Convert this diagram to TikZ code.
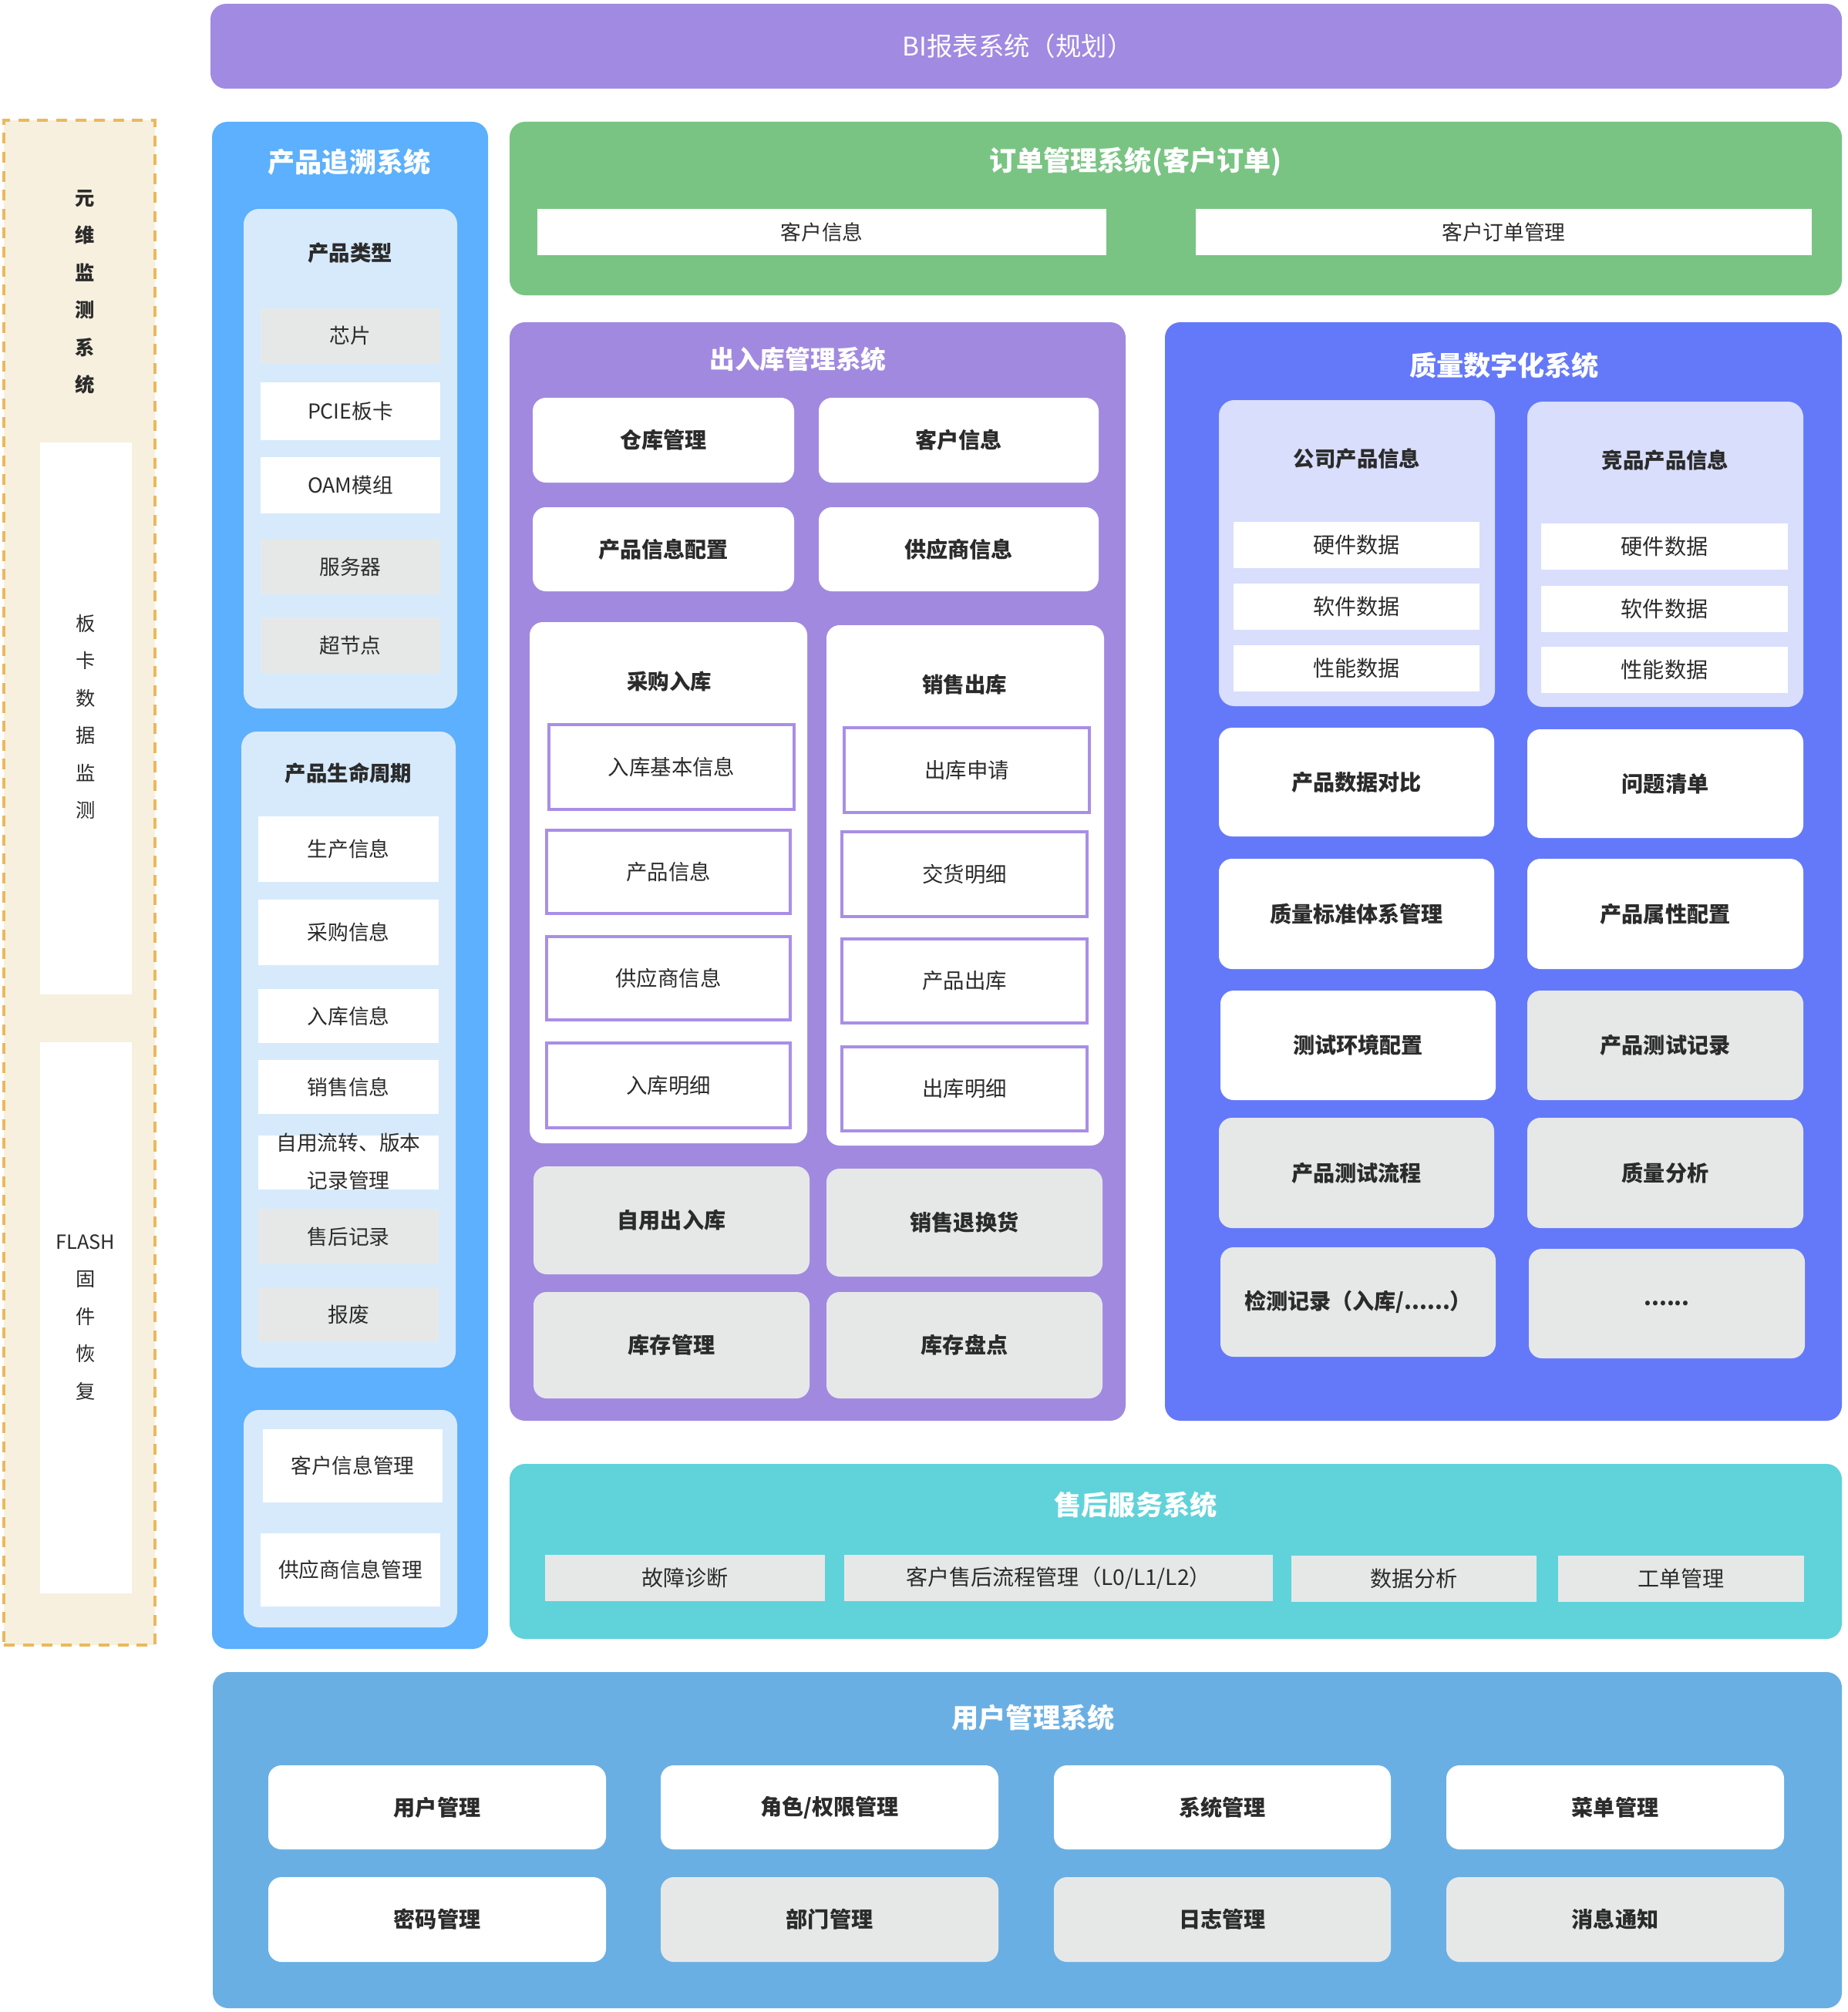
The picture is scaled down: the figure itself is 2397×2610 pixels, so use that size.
\documentclass[tikz,border=0pt]{standalone}
\usepackage{fontspec}
\setmainfont{Noto Sans CJK SC}
\definecolor{topbar}{HTML}{A18AE2}
\definecolor{cream}{HTML}{F7F0DF}
\definecolor{dashc}{HTML}{E9B95B}
\definecolor{trace}{HTML}{5CB0FD}
\definecolor{pale}{HTML}{D7EAFC}
\definecolor{grayi}{HTML}{E6E8E8}
\definecolor{ordg}{HTML}{79C483}
\definecolor{purp}{HTML}{A189E0}
\definecolor{pborder}{HTML}{A98EE6}
\definecolor{qual}{HTML}{6479F9}
\definecolor{lav}{HTML}{D8DEFC}
\definecolor{tealc}{HTML}{5FD3D9}
\definecolor{ublue}{HTML}{6AAFE3}
\definecolor{ink}{HTML}{2B2B2B}
% box from corner (x1,y1) to corner (x2,y2), in 0.1mm units
\newcommand\bx[7]{\node[#2,minimum width={(#5-#3)*0.1mm},minimum height={(#6-#4)*0.1mm}] (#1) at ({(#3+#5)/2},{(#4+#6)/2}) {#7};}
\newcommand\fsz[1]{\fontsize{#1}{#1}\selectfont}
\begin{document}
\begin{tikzpicture}[x=0.1mm,y=-0.1mm,
  every node/.style={inner sep=0pt,outer sep=0pt,text=ink},
  panel/.style={fill=#1,rounded corners=2mm},
  subpanel/.style={fill=#1,rounded corners=2mm},
  item/.style={fill=white,font=\fsz{7.6}},
  gitem/.style={fill=grayi,font=\fsz{7.6}},
  card/.style={fill=white,rounded corners=1.7mm,font=\fsz{8}\bfseries},
  gcard/.style={fill=grayi,rounded corners=1.7mm,font=\fsz{8}\bfseries},
  pitem/.style={fill=white,draw=pborder,line width=1.1pt,font=\fsz{7.8}},
  title/.style={text=white,font=\fsz{10}\bfseries},
  subtitle/.style={font=\fsz{7.8}\bfseries},
  vtext/.style={align=center,font=\fontsize{7.2}{13.8}\selectfont},
  dashbox/.style={fill=cream,draw=dashc,line width=1.3pt,dash pattern=on 4pt off 3pt}
]
\useasboundingbox (0,0) rectangle (2397,2610);
\fill[white] (0,0) rectangle (2397,2610);

% BI reporting bar
\bx{bi}{panel=topbar}{273}{5}{2389}{115}{}
\node[text=white,font=\fsz{9.5}] (bit) at (1320,60) {BI报表系统（规划）};

% monitoring column
\bx{mon}{dashbox}{5}{156}{201}{2134}{}
\node[vtext,font=\fontsize{7.2}{13.8}\selectfont\bfseries] (mont) at (110,379) {元\\维\\监\\测\\系\\统};
\bx{board}{fill=white}{52}{574}{171}{1290}{}
\node[vtext] (boardt) at (111,930) {板\\卡\\数\\据\\监\\测};
\bx{flash}{fill=white}{52}{1352}{171}{2067}{}
\node[vtext] (flasht) at (111,1709) {FLASH\\固\\件\\恢\\复};

% product traceability
\bx{trc}{panel=trace}{275}{158}{633}{2139}{}
\node[title] (trct) at (453,210) {产品追溯系统};
\bx{ptype}{subpanel=pale}{316}{271}{593}{919}{}
\node[subtitle] (ptypet) at (454,328) {产品类型};
\bx{pt1}{gitem}{338}{400}{571}{471}{芯片}
\bx{pt2}{item}{338}{496}{571}{571}{PCIE板卡}
\bx{pt3}{item}{338}{593}{571}{666}{OAM模组}
\bx{pt4}{gitem}{338}{699}{571}{771}{服务器}
\bx{pt5}{gitem}{338}{801}{571}{874}{超节点}
\bx{life}{subpanel=pale}{313}{949}{591}{1774}{}
\node[subtitle] (lifet) at (452,1003) {产品生命周期};
\bx{lc1}{item}{335}{1059}{569}{1144}{生产信息}
\bx{lc2}{item}{335}{1167}{569}{1252}{采购信息}
\bx{lc3}{item}{335}{1283}{569}{1353}{入库信息}
\bx{lc4}{item}{335}{1375}{569}{1445}{销售信息}
\bx{lc5}{item}{335}{1473}{569}{1543}{}
\node[align=center,font=\fontsize{7.6}{13.8}\selectfont] (lc5t) at (452,1507) {自用流转、版本\\记录管理};
\bx{lc6}{gitem}{335}{1568}{569}{1640}{售后记录}
\bx{lc7}{gitem}{335}{1670}{569}{1741}{报废}
\bx{info}{subpanel=pale}{316}{1829}{593}{2111}{}
\bx{inf1}{item}{341}{1854}{574}{1949}{客户信息管理}
\bx{inf2}{item}{338}{1989}{571}{2084}{供应商信息管理}

% order management
\bx{ord}{panel=ordg}{661}{158}{2389}{383}{}
\node[title] (ordt) at (1473,210) {订单管理系统(客户订单)};
\bx{ord1}{item}{697}{271}{1435}{331}{客户信息}
\bx{ord2}{item}{1551}{271}{2350}{331}{客户订单管理}

% warehouse management
\bx{wh}{panel=purp}{661}{418}{1460}{1843}{}
\node[title,font=\fsz{9.3}\bfseries] (wht) at (1035,466) {出入库管理系统};
\bx{wh1}{card}{691}{516}{1030}{626}{仓库管理}
\bx{wh2}{card}{1062}{516}{1425}{626}{客户信息}
\bx{wh3}{card}{691}{658}{1030}{767}{产品信息配置}
\bx{wh4}{card}{1062}{658}{1425}{767}{供应商信息}
\bx{buy}{fill=white,rounded corners=1.7mm}{687}{807}{1047}{1483}{}
\node[subtitle] (buyt) at (868,884) {采购入库};
\bx{buy1}{pitem}{712}{940}{1030}{1050}{入库基本信息}
\bx{buy2}{pitem}{709}{1077}{1025}{1185}{产品信息}
\bx{buy3}{pitem}{709}{1215}{1025}{1323}{供应商信息}
\bx{buy4}{pitem}{709}{1353}{1025}{1463}{入库明细}
\bx{sell}{fill=white,rounded corners=1.7mm}{1072}{811}{1432}{1486}{}
\node[subtitle] (sellt) at (1251,888) {销售出库};
\bx{sell1}{pitem}{1095}{944}{1413}{1054}{出库申请}
\bx{sell2}{pitem}{1092}{1079}{1410}{1189}{交货明细}
\bx{sell3}{pitem}{1092}{1218}{1410}{1327}{产品出库}
\bx{sell4}{pitem}{1092}{1358}{1410}{1467}{出库明细}
\bx{wh5}{gcard}{692}{1513}{1050}{1653}{自用出入库}
\bx{wh6}{gcard}{1072}{1516}{1430}{1656}{销售退换货}
\bx{wh7}{gcard}{692}{1676}{1050}{1814}{库存管理}
\bx{wh8}{gcard}{1072}{1676}{1430}{1814}{库存盘点}

% quality digitalisation
\bx{q}{panel=qual}{1511}{418}{2389}{1843}{}
\node[title] (qt) at (1951,474) {质量数字化系统};
\bx{qa}{subpanel=lav}{1581}{519}{1939}{916}{}
\node[subtitle] (qat) at (1760,595) {公司产品信息};
\bx{qa1}{item,font=\fsz{8}}{1600}{677}{1919}{737}{硬件数据}
\bx{qa2}{item,font=\fsz{8}}{1600}{757}{1919}{817}{软件数据}
\bx{qa3}{item,font=\fsz{8}}{1600}{837}{1919}{897}{性能数据}
\bx{qb}{subpanel=lav}{1981}{521}{2339}{917}{}
\node[subtitle] (qbt) at (2160,597) {竞品产品信息};
\bx{qb1}{item,font=\fsz{8}}{1999}{679}{2319}{739}{硬件数据}
\bx{qb2}{item,font=\fsz{8}}{1999}{760}{2319}{820}{软件数据}
\bx{qb3}{item,font=\fsz{8}}{1999}{839}{2319}{899}{性能数据}
\bx{q1}{card}{1581}{944}{1938}{1085}{产品数据对比}
\bx{q2}{card}{1981}{946}{2339}{1087}{问题清单}
\bx{q3}{card}{1581}{1114}{1938}{1257}{质量标准体系管理}
\bx{q4}{card}{1981}{1114}{2339}{1257}{产品属性配置}
\bx{q5}{card}{1583}{1285}{1940}{1427}{测试环境配置}
\bx{q6}{gcard}{1981}{1285}{2339}{1427}{产品测试记录}
\bx{q7}{gcard}{1581}{1450}{1938}{1593}{产品测试流程}
\bx{q8}{gcard}{1981}{1450}{2339}{1593}{质量分析}
\bx{q9}{gcard}{1583}{1618}{1940}{1760}{检测记录（入库/......）}
\bx{q10}{gcard}{1983}{1620}{2341}{1762}{......}

% after-sales service
\bx{svc}{panel=tealc}{661}{1899}{2389}{2126}{}
\node[title] (svct) at (1473,1952) {售后服务系统};
\bx{svc1}{gitem,font=\fsz{8}}{707}{2017}{1070}{2077}{故障诊断}
\bx{svc2}{gitem,font=\fsz{8}}{1095}{2017}{1651}{2077}{客户售后流程管理（L0/L1/L2）}
\bx{svc3}{gitem,font=\fsz{8}}{1675}{2018}{1993}{2078}{数据分析}
\bx{svc4}{gitem,font=\fsz{8}}{2021}{2018}{2340}{2078}{工单管理}

% user management
\bx{usr}{panel=ublue}{276}{2169}{2389}{2605}{}
\node[title] (usrt) at (1340,2228) {用户管理系统};
\bx{u1}{card}{348}{2290}{786}{2399}{用户管理}
\bx{u2}{card}{857}{2290}{1295}{2399}{角色/权限管理}
\bx{u3}{card}{1367}{2290}{1804}{2399}{系统管理}
\bx{u4}{card}{1876}{2290}{2314}{2399}{菜单管理}
\bx{u5}{card}{348}{2435}{786}{2545}{密码管理}
\bx{u6}{gcard}{857}{2435}{1295}{2545}{部门管理}
\bx{u7}{gcard}{1367}{2435}{1804}{2545}{日志管理}
\bx{u8}{gcard}{1876}{2435}{2314}{2545}{消息通知}
\end{tikzpicture}
\end{document}
